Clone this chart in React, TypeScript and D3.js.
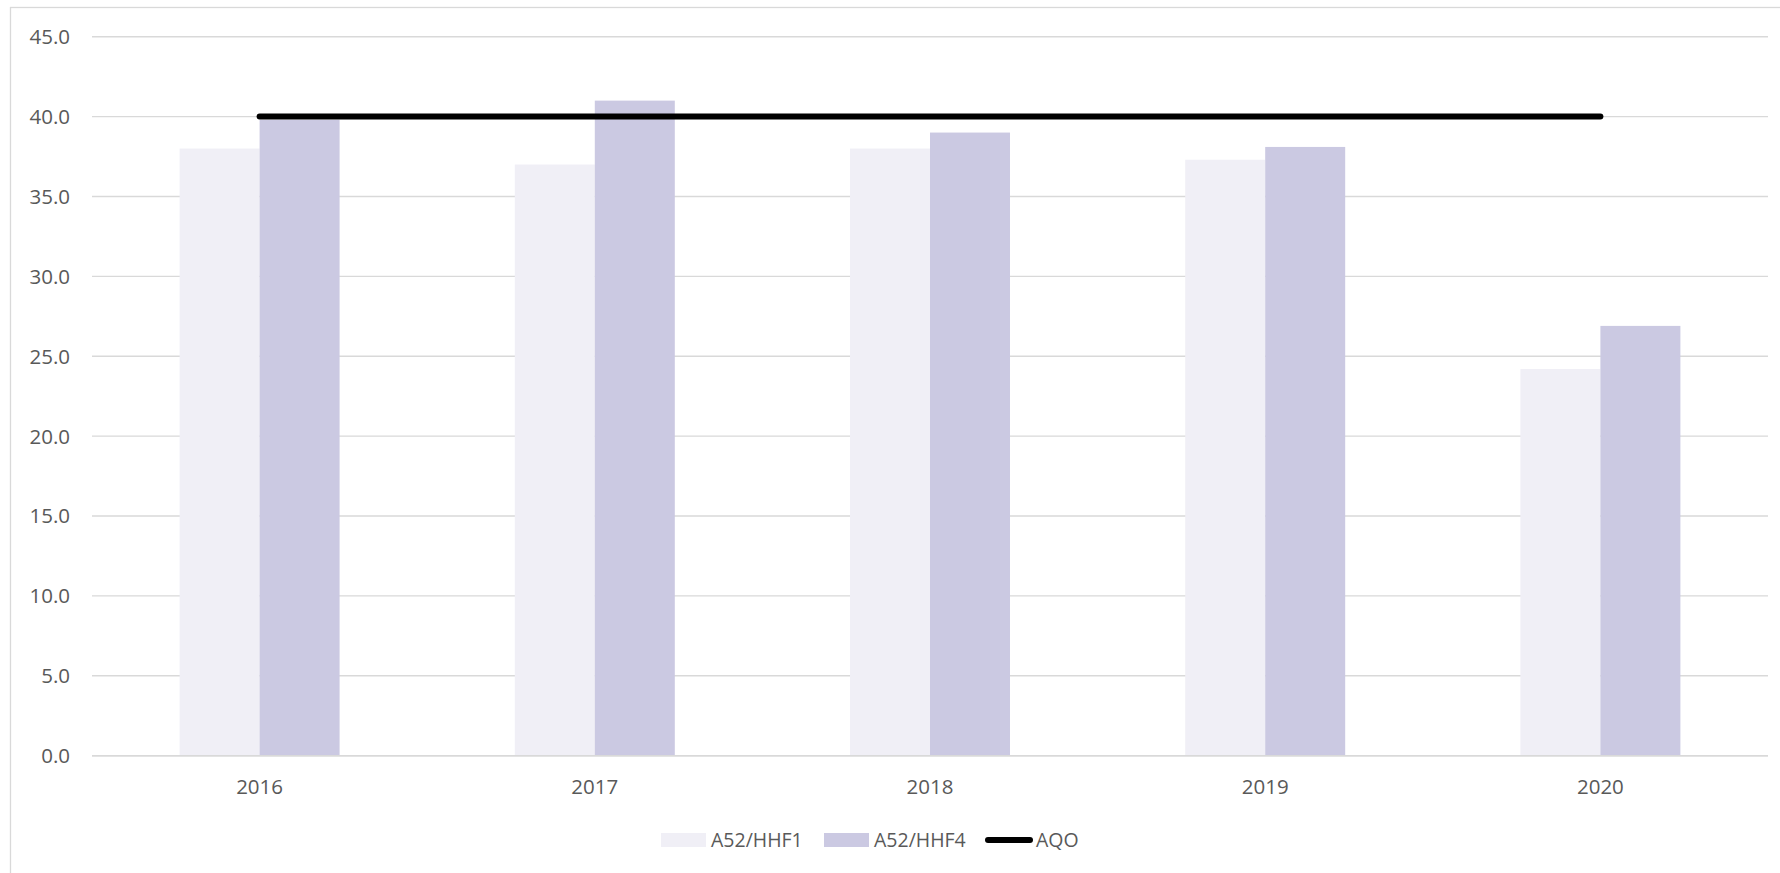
import React from "react";
import * as d3 from "d3";

const categories = ["2016", "2017", "2018", "2019", "2020"];
const seriesNames = ["A52/HHF1", "A52/HHF4"];
const hhf1 = [38.0, 37.0, 38.0, 37.3, 24.2];
const hhf4 = [39.8, 41.0, 39.0, 38.1, 26.9];
const aqo = [40, 40, 40, 40, 40];
const yTicks = [0, 5, 10, 15, 20, 25, 30, 35, 40, 45];

const W = 1780;
const H = 873;
const colors = ["#F0EFF6", "#CBC9E2"];
const textColor = "#595959";
const font = "'Open Sans', sans-serif";

export default function App() {
  const x = d3.scaleBand<string>().domain(categories).range([92, 1768]).paddingInner(0.5227).paddingOuter(0.26135);
  const xs = d3.scaleBand<string>().domain(seriesNames).range([0, x.bandwidth()]);
  const y = d3.scaleLinear().domain([0, 45]).range([755.7, 36.7]);
  const series = [hhf1, hhf4];
  const line = d3
    .line<number>()
    .x((_, i) => (x(categories[i]) as number) + x.bandwidth() / 2)
    .y((d) => y(d));

  return (
    <svg width={W} height={H} style={{ position: "absolute", left: 0, top: 0, background: "#fff" }} fontFamily={font}>
      <rect x={10.5} y={7.5} width={W} height={H} fill="#fff" stroke="#D9D9D9" strokeWidth={1.3} />
      {yTicks.map((t) => (
        <g key={t}>
          <line x1={92} x2={1768} y1={y(t)} y2={y(t)} stroke="#D9D9D9" strokeWidth={1.4} />
          <text x={70} y={y(t) + 7.4} textAnchor="end" fontSize={20.5} fill={textColor}>
            {t.toFixed(1)}
          </text>
        </g>
      ))}
      {series.map((vals, si) =>
        vals.map((v, i) => (
          <rect
            key={`${si}-${i}`}
            x={(x(categories[i]) as number) + (xs(seriesNames[si]) as number)}
            y={y(v)}
            width={xs.bandwidth()}
            height={y(0) - y(v)}
            fill={colors[si]}
          />
        ))
      )}
      <line x1={92} x2={1768} y1={y(0)} y2={y(0)} stroke="#D9D9D9" strokeWidth={1.4} />
      <path d={line(aqo) || ""} fill="none" stroke="#000" strokeWidth={6} strokeLinecap="round" />
      {categories.map((c) => (
        <text key={c} x={(x(c) as number) + x.bandwidth() / 2} y={794} textAnchor="middle" fontSize={20.5} fill={textColor}>
          {c}
        </text>
      ))}
      <g>
        <rect x={661} y={833} width={45} height={14} fill={colors[0]} />
        <text x={711} y={846.7} fontSize={19.5} fill={textColor}>{seriesNames[0]}</text>
        <rect x={824} y={833} width={45} height={14} fill={colors[1]} />
        <text x={874} y={846.7} fontSize={19.5} fill={textColor}>{seriesNames[1]}</text>
        <line x1={988} x2={1030} y1={840} y2={840} stroke="#000" strokeWidth={6} strokeLinecap="round" />
        <text x={1036} y={846.7} fontSize={19.5} fill={textColor}>AQO</text>
      </g>
    </svg>
  );
}
